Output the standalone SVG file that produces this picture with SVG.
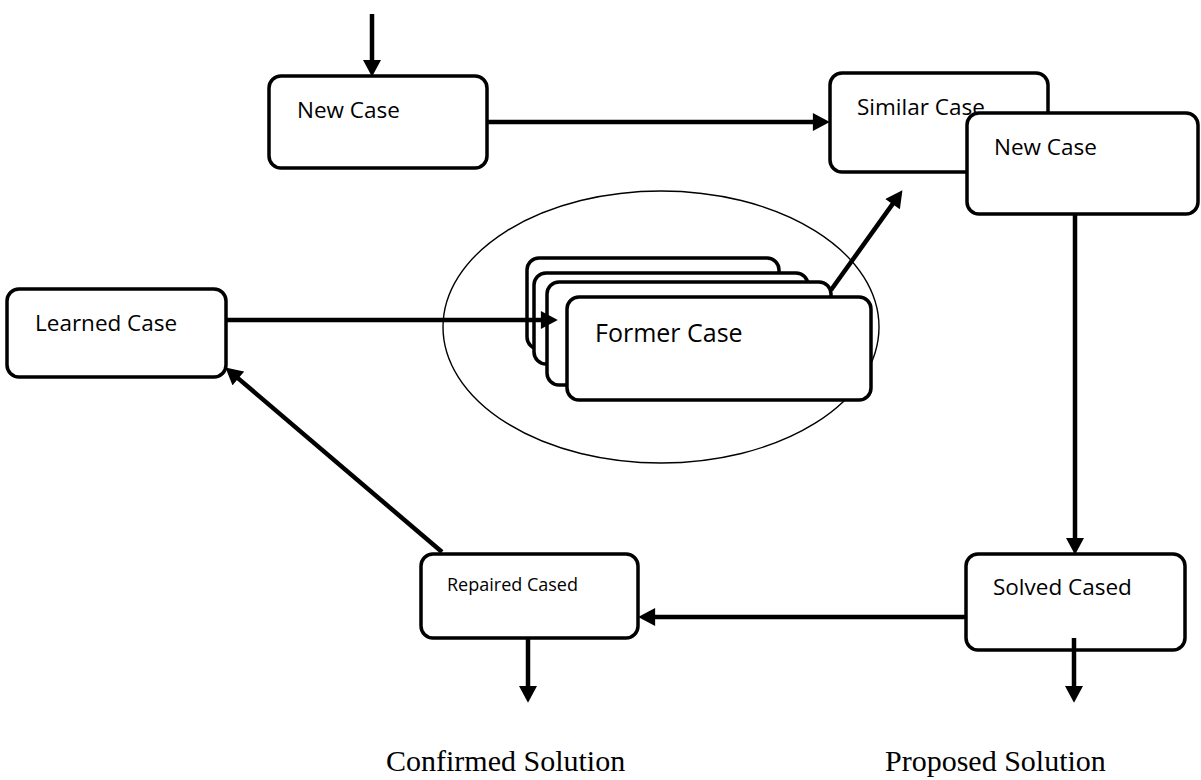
<svg xmlns="http://www.w3.org/2000/svg" width="1201" height="780" viewBox="0 0 1201 780">
<style>
.box{fill:#fff;stroke:#000;stroke-width:3.5}
.lbl{font-family:"Open Sans","Noto Sans",sans-serif;font-size:22.5px;fill:#000}
.sol{font-family:"Liberation Serif","Times New Roman",serif;font-size:30px;fill:#000}
.con{stroke:#000;stroke-width:4.5;fill:none;marker-end:url(#ah)}
</style>
<defs>
<marker id="ah" markerUnits="userSpaceOnUse" markerWidth="18" markerHeight="18" refX="2" refY="8.5" orient="auto" viewBox="0 0 16 17">
<path d="M0,0 L16,8.5 L0,17 z" fill="#000"/>
</marker>
</defs>
<rect width="1201" height="780" fill="#fff"/>
<g id="case-base">
<ellipse cx="661" cy="327" rx="218" ry="136" fill="none" stroke="#000" stroke-width="1.4"/>
</g>
<g id="former-case">
<rect class="box" x="527" y="258" width="252" height="91" rx="12"/>
<rect class="box" x="534" y="273" width="274" height="91" rx="12"/>
<rect class="box" x="547" y="282" width="284" height="103" rx="12"/>
<rect class="box" x="567" y="297" width="304" height="103" rx="12"/>
<text class="lbl" x="595" y="342" style="font-size:25px">Former Case</text>
</g>
<g id="new-case">
<rect class="box" x="269" y="76" width="218" height="92" rx="12"/>
<text class="lbl" x="297" y="118">New Case</text>
</g>
<g id="similar-case">
<rect class="box" x="830" y="73" width="218" height="99" rx="12"/>
<text class="lbl" x="857" y="115">Similar Case</text>
</g>
<g id="new-case-2">
<rect class="box" x="967" y="113" width="231" height="101" rx="12"/>
<text class="lbl" x="994" y="155">New Case</text>
</g>
<g id="learned-case">
<rect class="box" x="7" y="289" width="219" height="88" rx="12"/>
<text class="lbl" x="35" y="331">Learned Case</text>
</g>
<g id="repaired-cased">
<rect class="box" x="421" y="554" width="217" height="84" rx="12"/>
<text class="lbl" x="447" y="591" style="font-size:18px">Repaired Cased</text>
</g>
<g id="solved-cased">
<rect class="box" x="966" y="554" width="219" height="96" rx="12"/>
<text class="lbl" x="993" y="595">Solved Cased</text>
</g>
<g id="connectors">
<line class="con" x1="372" y1="14" x2="372" y2="62"/>
<line class="con" x1="487" y1="122" x2="815" y2="122"/>
<line class="con" x1="1075" y1="214" x2="1075" y2="540"/>
<line class="con" x1="966" y1="617" x2="653" y2="617"/>
<line class="con" x1="1074" y1="638" x2="1074" y2="688"/>
<line class="con" x1="528" y1="638" x2="528" y2="688"/>
<line class="con" x1="442" y1="552" x2="236.7" y2="377.1"/>
<line class="con" x1="226" y1="320" x2="543" y2="320"/>
<line class="con" x1="831" y1="290" x2="893.8" y2="202.4"/>
</g>
<g id="outputs">
<text class="sol" x="386" y="771">Confirmed Solution</text>
<text class="sol" x="885" y="771">Proposed Solution</text>
</g>
</svg>
